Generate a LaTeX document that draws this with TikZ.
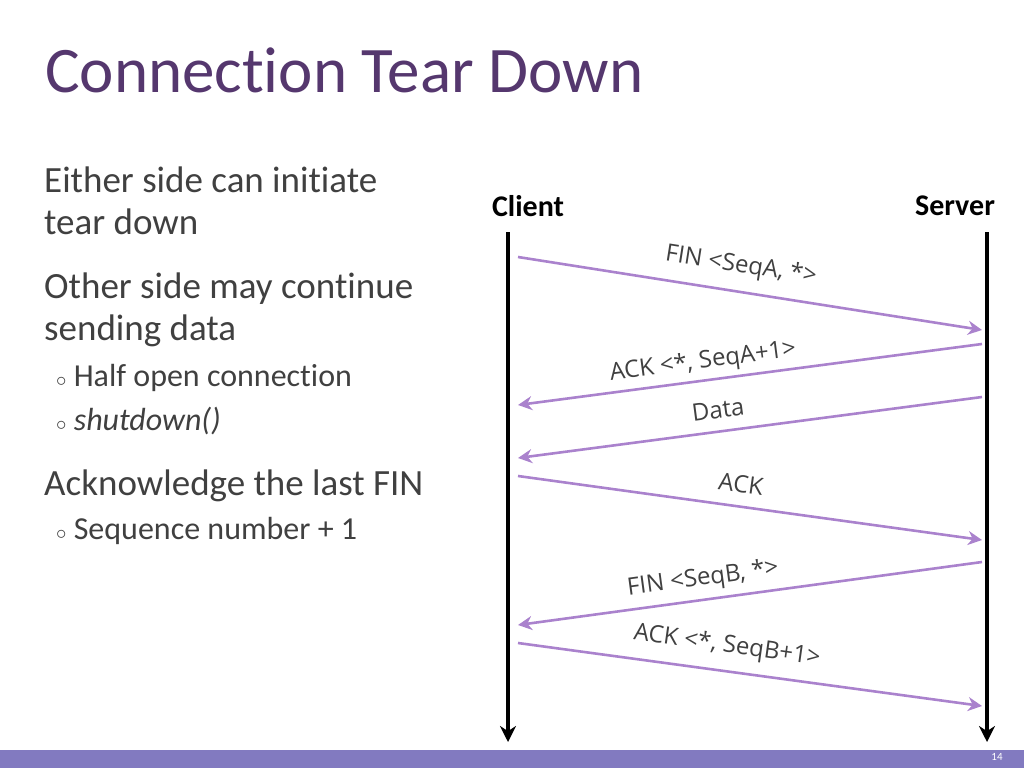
\documentclass[tikz,border=0pt]{standalone}
\usepackage{fontspec}
\setmainfont{Carlito}[Ligatures=NoCommon]
\newfontfamily\lblfont{Open Sans}
\usetikzlibrary{arrows.meta}
\begin{document}
\begin{tikzpicture}[x=1pt,y=-1pt,
  title/.style={anchor=base west,text=titlec,font=\fontsize{65}{65}\selectfont,inner sep=0},
  body/.style={anchor=base west,font=\fontsize{37}{37}\selectfont,text=textc,inner sep=0},
  sub/.style={anchor=base west,font=\fontsize{32}{32}\selectfont,text=textc,inner sep=0},
  life/.style={line width=4.5pt,-{Stealth[length=16pt,width=16pt]}},
  msg/.style={draw=msgc,line width=2.6pt,-{Stealth[length=14pt,width=14pt]}},
  mlab/.style={font=\lblfont\fontsize{24}{24}\selectfont,text=textc,inner sep=0}]
\definecolor{titlec}{RGB}{85,55,110}
\definecolor{textc}{RGB}{64,64,64}
\definecolor{msgc}{RGB}{170,130,205}
\definecolor{barc}{RGB}{130,122,192}
\useasboundingbox (0,0) rectangle (1024,768);
\fill[barc] (0,750) rectangle (1024,768);
\node[font=\fontsize{11}{11}\selectfont,text=white] (pg) at (997,757) {14};
\node[title] (t) at (45,92) {Connection Tear Down};
\node[body] (b1) at (44,192) {Either side can initiate};
\node[body] (b2) at (44,234) {tear down};
\node[body] (b3) at (44,298) {Other side may continue};
\node[body] (b4) at (44,340) {sending data};
\node[sub] (s1) at (56,386) {{\fontsize{20}{20}\selectfont$\circ$} Half open connection};
\node[sub] (s2) at (56,430) {{\fontsize{20}{20}\selectfont$\circ$} \textit{shutdown()}};
\node[body] (b5) at (44,495) {Acknowledge the last FIN};
\node[sub] (s3) at (56,539) {{\fontsize{20}{20}\selectfont$\circ$} Sequence number + 1};
\node[font=\bfseries\fontsize{30}{30}\selectfont] (cl) at (528,206) {Client};
\node[font=\bfseries\fontsize{30}{30}\selectfont] (sv) at (955,206) {Server};
\coordinate (ct) at (508,232); \coordinate (cb) at (508,742);
\coordinate (st) at (987,232); \coordinate (sb) at (987,742);
\draw[life] (ct) -- (cb);
\draw[life] (st) -- (sb);
\coordinate (a1) at (518,257); \coordinate (a2) at (982,330);
\coordinate (b1s) at (982,344); \coordinate (b1e) at (518,405);
\coordinate (c1) at (982,397); \coordinate (c2) at (518,458);
\coordinate (d1) at (518,476); \coordinate (d2) at (982,540);
\coordinate (e1) at (982,562); \coordinate (e2) at (518,625);
\coordinate (f1) at (518,643); \coordinate (f2) at (982,706);
\draw[msg] (a1) -- (a2);
\draw[msg] (b1s) -- (b1e);
\draw[msg] (c1) -- (c2);
\draw[msg] (d1) -- (d2);
\draw[msg] (e1) -- (e2);
\draw[msg] (f1) -- (f2);
\node[mlab,rotate=-9] (l1) at (741,266) {FIN <SeqA, *>};
\node[mlab,rotate=7.5] (l2) at (703,362) {ACK <*, SeqA+1>};
\node[mlab,rotate=7.5] (l3) at (718,410) {Data};
\node[mlab,rotate=-8] (l4) at (741,484) {ACK};
\node[mlab,rotate=7.7] (l5) at (703,579) {FIN <SeqB, *>};
\node[mlab,rotate=-8] (l6) at (727,646) {ACK <*, SeqB+1>};
\end{tikzpicture}
\end{document}
